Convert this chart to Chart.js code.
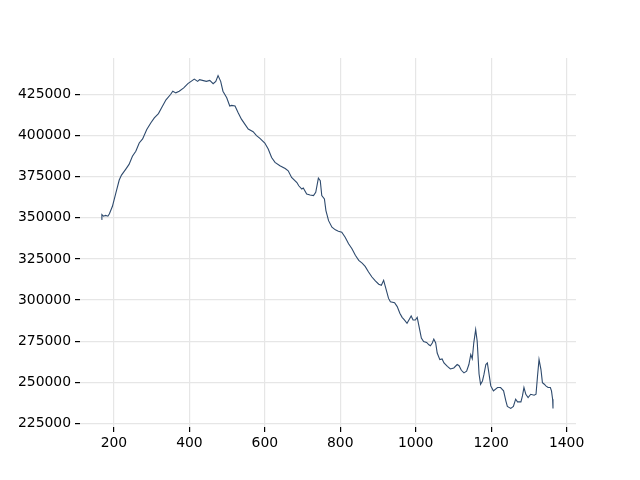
<!DOCTYPE html>
<html>
<head>
<meta charset="utf-8">
<script src="https://cdn.jsdelivr.net/npm/chart.js@4/dist/chart.umd.min.js"></script>
<style>
  html, body { margin: 0; padding: 0; background: #fff; }
  #wrap { width: 640px; height: 480px; }
</style>
</head>
<body>
<div id="wrap"><canvas id="chart" width="640" height="480"></canvas></div>
<script>
  // values
  var xVals = [
    167, 168, 172, 178, 184, 188, 196, 205, 214, 220,
    231, 240, 249, 258, 267, 276, 287, 298, 307, 318,
    326, 338, 350, 356, 364, 373, 385, 396, 413, 422,
    427, 445, 454, 463, 470, 476, 483, 489, 499, 507,
    512, 521, 529, 538, 547, 556, 569, 578, 587, 600,
    609, 618, 627, 640, 654, 662, 671, 685, 690, 698,
    702, 711, 720, 729, 735, 742, 747, 751, 758, 762,
    769, 778, 787, 795, 804, 813, 822, 831, 840, 849,
    858, 866, 875, 884, 893, 902, 909, 915, 921, 928,
    933, 944, 951, 958, 964, 970, 977, 982, 988, 993,
    999, 1004, 1008, 1015, 1021, 1029, 1035, 1039, 1044, 1048,
    1053, 1057, 1064, 1070, 1075, 1084, 1092, 1101, 1110, 1115,
    1121, 1128, 1135, 1141, 1146, 1150, 1154, 1159, 1163, 1168,
    1172, 1177, 1181, 1186, 1190, 1194, 1199, 1206, 1217, 1225,
    1233, 1239, 1243, 1252, 1259, 1265, 1270, 1279, 1283, 1287,
    1292, 1298, 1305, 1314, 1319, 1323, 1327, 1332, 1336, 1341,
    1345, 1351, 1357, 1360, 1363, 1364
  ];
  var yVals = [
    349000, 352000, 351000, 351500, 351000, 352500, 357000, 365000, 373000, 376000,
    379500, 382500, 387500, 390500, 395500, 398000, 403700, 407800, 410800, 413400,
    416800, 421800, 425000, 427000, 426000, 427000, 429000, 431600, 434400, 433000,
    434000, 433000, 433600, 431600, 433000, 436500, 433000, 427000, 423000, 418000,
    418400, 418000, 414000, 410000, 407000, 404000, 402400, 400000, 398300, 395500,
    391800, 386700, 383700, 381700, 380000, 378600, 374600, 371500, 369500, 367500,
    368100, 364500, 363900, 363500, 365500, 374200, 372600, 363500, 361500, 354400,
    348300, 344300, 342700, 341900, 341300, 338200, 334200, 331200, 327200, 324100,
    322500, 320500, 317100, 314000, 311600, 309600, 309000, 312000, 307000, 301000,
    299000, 298400, 296000, 292000, 289500, 287900, 285900, 287900, 290300, 287900,
    287900, 289500, 284900, 276900, 274800, 274200, 272800, 272200, 273900, 276300,
    273900, 267800, 263800, 264200, 261800, 259700, 258100, 258700, 260800, 260100,
    257300, 255700, 256700, 260800, 266800, 264300, 274000, 282000, 275000, 255000,
    248800, 250800, 254800, 260800, 261800, 255700, 247800, 244800, 246800, 246800,
    244800, 238700, 235300, 234100, 235300, 239700, 238100, 238100, 241700, 246800,
    242700, 240700, 242700, 242100, 242700, 253800, 263900, 257900, 249800, 248800,
    247800, 246800, 246800, 244800, 239700, 234100
  ];
  var xTicks = [200, 400, 600, 800, 1000, 1200, 1400];
  var yTicks = [225000, 250000, 275000, 300000, 325000, 350000, 375000, 400000, 425000];

  var points = xVals.map(function (x, i) { return { x: x, y: yVals[i] }; });

  var font = { family: "'DejaVu Sans', sans-serif", size: 13.9 };

  function fixTicks(list) {
    return function (scale) {
      scale.ticks = list.map(function (v) { return { value: v }; });
    };
  }

  // plain numbers, no thousands separators
  function plain(v) { return String(v); }

  new Chart(document.getElementById('chart').getContext('2d'), {
    type: 'line',
    data: {
      datasets: [{
        data: points,
        borderColor: '#2e4a6d',
        borderWidth: 1.1,
        pointRadius: 0,
        tension: 0,
        fill: false
      }]
    },
    options: {
      responsive: false,
      animation: false,
      layout: { padding: { top: 58, right: 64, left: 0, bottom: 0 } },
      plugins: { legend: { display: false }, tooltip: { enabled: false } },
      scales: {
        x: {
          type: 'linear',
          min: 110,
          max: 1425,
          afterBuildTicks: fixTicks(xTicks),
          afterFit: function (s) { s.height = 53; },
          border: { display: false },
          grid: { color: '#e6e6e6', lineWidth: 1.2, tickColor: '#000', tickLength: 5 },
          ticks: { color: '#000', font: font, padding: 3, maxRotation: 0, callback: plain }
        },
        y: {
          type: 'linear',
          min: 222800,
          max: 447200,
          afterBuildTicks: fixTicks(yTicks),
          afterFit: function (s) { s.width = 80; },
          border: { display: false },
          grid: { color: '#e6e6e6', lineWidth: 1.2, tickColor: '#000', tickLength: 5 },
          ticks: { color: '#000', font: font, padding: 4, callback: plain }
        }
      }
    }
  });
</script>
</body>
</html>
